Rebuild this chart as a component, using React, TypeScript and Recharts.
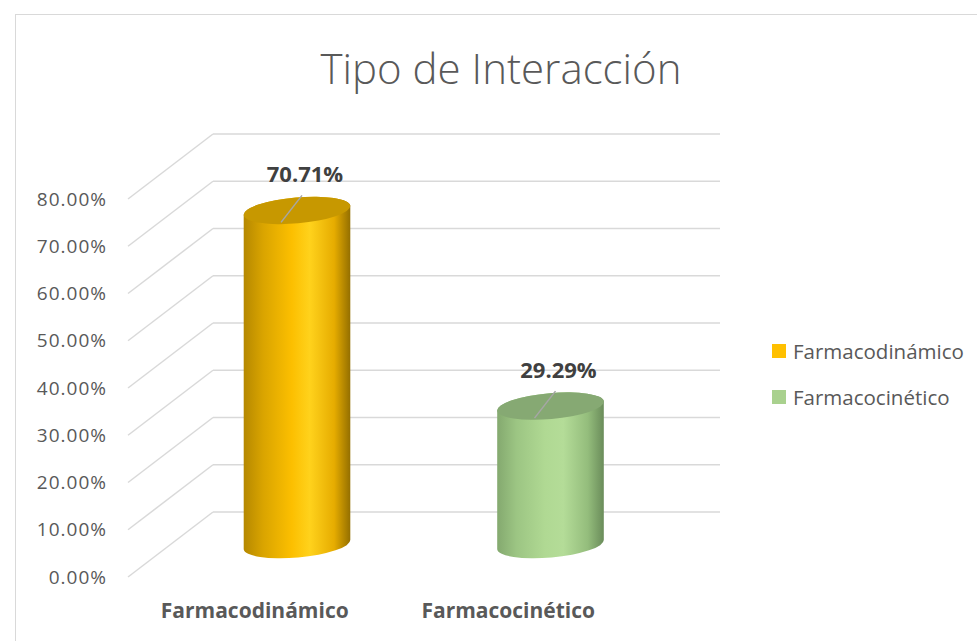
import { BarChart, Bar, XAxis, YAxis, CartesianGrid, LabelList, Legend } from "recharts";

const categories = ["Farmacodinámico", "Farmacocinético"];
const shares = [0.7071, 0.2929];
const yTicks = [0, 0.1, 0.2, 0.3, 0.4, 0.5, 0.6, 0.7, 0.8];

const data = categories.map((name, i) => ({ name, value: shares[i] }));

const FONT = "'Open Sans', sans-serif";
const TEXT = "#595959";
const GRID = "#d9d9d9";

// depth of the fake 3d box (front plane -> back wall)
const DEPTH_X = 85;
const DEPTH_Y = 65;
const ELLIPSE_RY = 13;
const TILT = -5;

const palette = [
  { id: "cylGold", swatch: "#ffc000", top: "#c79800" },
  { id: "cylGreen", swatch: "#a9d18e", top: "#86a973" },
];

const pct = (v: number) => `${(v * 100).toFixed(2)}%`;

const renderGridLine = (p: any) => {
  const { x1, y1, x2, y2 } = p;
  return (
    <g key={p.key ?? `grid-${p.index}`}>
      <line x1={x1} y1={y1} x2={x1 + DEPTH_X} y2={y1 - DEPTH_Y} stroke={GRID} strokeWidth={1.5} />
      <line
        x1={x1 + DEPTH_X}
        y1={y1 - DEPTH_Y}
        x2={x2 + DEPTH_X}
        y2={y2 - DEPTH_Y}
        stroke={GRID}
        strokeWidth={1.5}
      />
    </g>
  );
};

function Cylinder(props: any) {
  const { x, y, width, height, index } = props;
  const c = palette[index % palette.length];
  const cx = x + width / 2 + DEPTH_X / 2;
  const top = y - DEPTH_Y / 2;
  const bottom = y + height - DEPTH_Y / 2;
  const rx = width / 2;
  const a = (TILT * Math.PI) / 180;
  const ex = rx * Math.cos(a);
  const ey = rx * Math.sin(a);
  const body = [
    `M ${cx - ex} ${top - ey}`,
    `L ${cx - ex} ${bottom - ey}`,
    `A ${rx} ${ELLIPSE_RY} ${TILT} 0 0 ${cx + ex} ${bottom + ey}`,
    `L ${cx + ex} ${top + ey}`,
    `A ${rx} ${ELLIPSE_RY} ${TILT} 0 0 ${cx - ex} ${top - ey}`,
    "Z",
  ].join(" ");
  return (
    <g>
      <path d={body} fill={`url(#${c.id})`} />
      <ellipse
        cx={cx}
        cy={top}
        rx={rx}
        ry={ELLIPSE_RY}
        fill={c.top}
        transform={`rotate(${TILT} ${cx} ${top})`}
      />
    </g>
  );
}

function CylinderLabel(props: any) {
  const { x, y, width, value } = props;
  const cx = x + width / 2 + DEPTH_X / 2;
  const top = y - DEPTH_Y / 2;
  return (
    <g>
      <line x1={cx - 16} y1={top + 12} x2={cx + 5} y2={top - 15} stroke="#a6a6a6" strokeWidth={1.5} />
      <text
        x={cx + 8}
        y={top - 28}
        textAnchor="middle"
        fontFamily={FONT}
        fontSize={22}
        fontWeight={700}
        fill="#404040"
      >
        {pct(value)}
      </text>
    </g>
  );
}

function LegendBox() {
  return (
    <div style={{ fontFamily: FONT, fontSize: 20.5, color: TEXT }}>
      {categories.map((name, i) => (
        <div key={name} style={{ display: "flex", alignItems: "center", height: 46 }}>
          <span
            style={{
              width: 14,
              height: 14,
              background: palette[i].swatch,
              marginRight: 7,
              display: "inline-block",
            }}
          />
          <span>{name}</span>
        </div>
      ))}
    </div>
  );
}

export default function App() {
  return (
    <div
      style={{
        position: "absolute",
        left: 0,
        top: 0,
        width: 977,
        height: 641,
        background: "#fff",
        overflow: "hidden",
      }}
    >
      <div
        style={{
          position: "absolute",
          left: 15,
          top: 14,
          width: 980,
          height: 660,
          border: `1.5px solid ${GRID}`,
        }}
      />
      <svg width={977} height={120} style={{ position: "absolute", left: 0, top: 0 }}>
        <text x={501} y={84} textAnchor="middle" fontFamily={FONT} fontWeight={300} fontSize={42} fill={TEXT}>
          Tipo de Interacción
        </text>
      </svg>
      <div style={{ position: "absolute", left: 0, top: 0 }}>
        <BarChart
          width={977}
          height={641}
          data={data}
          margin={{ top: 199, right: 342, bottom: 14, left: 38 }}
        >
          <defs>
            <linearGradient id="cylGold" x1="0" y1="0" x2="1" y2="0">
              <stop offset="0%" stopColor="#b58800" />
              <stop offset="18%" stopColor="#d9a400" />
              <stop offset="45%" stopColor="#fcbf00" />
              <stop offset="62%" stopColor="#ffd21c" />
              <stop offset="85%" stopColor="#e6ac00" />
              <stop offset="100%" stopColor="#946f00" />
            </linearGradient>
            <linearGradient id="cylGreen" x1="0" y1="0" x2="1" y2="0">
              <stop offset="0%" stopColor="#84a96f" />
              <stop offset="18%" stopColor="#9cc583" />
              <stop offset="45%" stopColor="#b0d993" />
              <stop offset="62%" stopColor="#b4dc98" />
              <stop offset="85%" stopColor="#94bd7c" />
              <stop offset="100%" stopColor="#6a8c5a" />
            </linearGradient>
          </defs>
          <CartesianGrid vertical={false} horizontal={renderGridLine} />
          <XAxis
            dataKey="name"
            interval={0}
            axisLine={false}
            tickLine={false}
            tickSize={0}
            tickMargin={26}
            height={50}
            tick={{ fontFamily: FONT, fontSize: 21, fontWeight: 700, fill: TEXT }}
          />
          <YAxis
            domain={[0, 0.8]}
            ticks={yTicks}
            axisLine={false}
            tickLine={false}
            tickSize={0}
            tickMargin={21}
            width={90}
            tickFormatter={pct}
            tick={{ fontFamily: FONT, fontSize: 19, fill: TEXT, letterSpacing: 1 }}
          />
          <Bar dataKey="value" barSize={107} shape={Cylinder} isAnimationActive={false}>
            <LabelList dataKey="value" content={CylinderLabel} />
          </Bar>
          <Legend
            layout="vertical"
            align="center"
            verticalAlign="middle"
            content={LegendBox}
            wrapperStyle={{ position: "absolute", left: 772, top: 328, width: 205 }}
          />
        </BarChart>
      </div>
    </div>
  );
}
